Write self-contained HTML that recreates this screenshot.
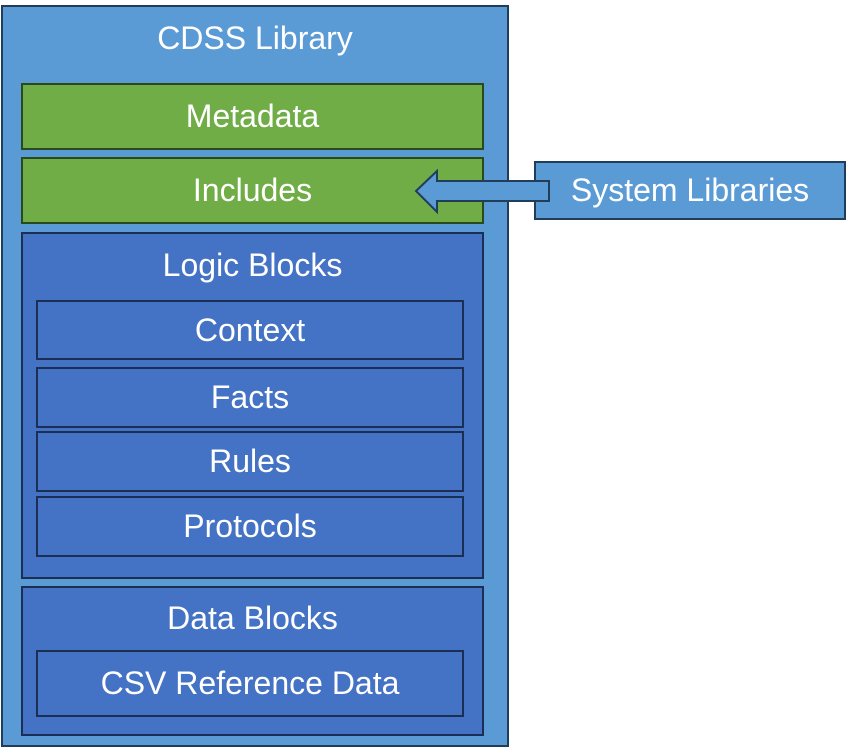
<!DOCTYPE html>
<html><head><meta charset="utf-8"><style>
html,body{margin:0;padding:0;background:#fff;width:846px;height:748px;overflow:hidden}
.b{position:absolute;box-sizing:border-box;border:2px solid #1f3864;color:#fff;font-family:"Liberation Sans",sans-serif;font-size:32px;display:flex;justify-content:center;align-items:center}
.lb{background:#5b9bd5;border-color:#203d5a}
.g{background:#70ad47;border-color:#2b4a1c}
.d{background:#4472c4;border-color:#1b2f55}
.t{position:absolute;left:0;right:0;text-align:center;color:#fff;font-family:"Liberation Sans",sans-serif;font-size:32px}
</style></head><body>
<div class="b lb" style="left:1px;top:5px;width:508px;height:742px;align-items:flex-start"><div class="t" style="top:13px">CDSS Library</div></div>
<div class="b g" style="left:21px;top:83px;width:463px;height:67px">Metadata</div>
<div class="b g" style="left:21px;top:157px;width:463px;height:67px">Includes</div>
<div class="b d" style="left:21px;top:232px;width:463px;height:347px"><div class="t" style="top:13px">Logic Blocks</div></div>
<div class="b d" style="left:36px;top:300px;width:428px;height:60px">Context</div>
<div class="b d" style="left:36px;top:367px;width:428px;height:61px">Facts</div>
<div class="b d" style="left:36px;top:431px;width:428px;height:61px">Rules</div>
<div class="b d" style="left:36px;top:496px;width:428px;height:61px">Protocols</div>
<div class="b d" style="left:21px;top:586px;width:463px;height:150px"><div class="t" style="top:12px">Data Blocks</div></div>
<div class="b d" style="left:36px;top:650px;width:428px;height:67px">CSV Reference Data</div>
<div class="b lb" style="left:534px;top:161px;width:312px;height:59px">System Libraries</div>
<svg style="position:absolute;left:0;top:0" width="846" height="748">
<polygon points="416,191 437,171 437,181 549,181 549,201 437,201 437,212" fill="#5b9bd5" stroke="#203d5a" stroke-width="2"/>
</svg>
</body></html>
